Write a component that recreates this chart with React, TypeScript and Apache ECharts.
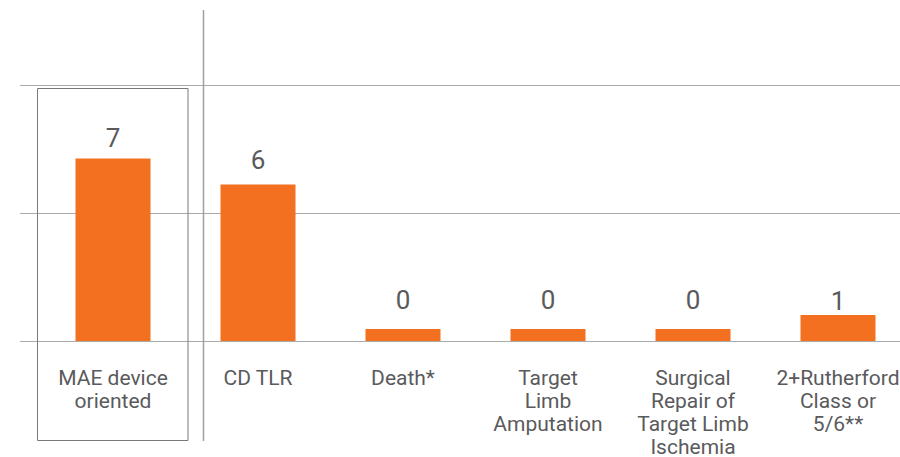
import React, { useEffect, useRef } from "react";
import * as echarts from "echarts";

const categories: string[] = [
  "MAE device\noriented",
  "CD TLR",
  "Death*",
  "Target\nLimb\nAmputation",
  "Surgical\nRepair of\nTarget Limb\nIschemia",
  "2+Rutherford\nClass or\n5/6**",
];
const values: number[] = [7, 6, 0, 0, 0, 1];
const yTicks: number[] = [0, 4.9, 9.8];

const labelGap: number[] = [8, 12, 16, 16, 16, 1];

const FONT = "Roboto, sans-serif";
const TEXT = "#5a5a5c";
const ORANGE = "#F37021";

export default function App() {
  const ref = useRef<HTMLDivElement>(null);
  useEffect(() => {
    if (!ref.current) return;
    const chart = echarts.init(ref.current, undefined, { renderer: "svg" });
    const yMax = yTicks[yTicks.length - 1];
    const yInterval = yTicks[1] - yTicks[0];
    chart.setOption({
      animation: false,
      grid: [
        { left: 40.5, width: 870, top: 85.5, bottom: 116, outerBoundsMode: "none", containLabel: false },
        { left: 20, right: 0, top: 85.5, bottom: 116, outerBoundsMode: "none" },
      ],
      xAxis: [
        {
          type: "category",
          gridIndex: 0,
          data: categories,
          axisLine: { show: false },
          axisTick: { show: false },
          axisLabel: {
            interval: 0,
            margin: 25,
            color: TEXT,
            fontFamily: FONT,
            fontSize: 21,
            lineHeight: 23,
            align: "center",
          },
        },
        {
          type: "value",
          gridIndex: 1,
          show: false,
          min: 0,
          max: 1,
        },
      ],
      yAxis: [
        {
          type: "value",
          gridIndex: 0,
          min: 0,
          max: yMax,
          interval: yInterval,
          show: false,
          splitLine: { show: false },
        },
        {
          type: "value",
          gridIndex: 1,
          min: 0,
          max: yMax,
          interval: yInterval,
          axisLine: { show: false },
          axisTick: { show: false },
          axisLabel: { show: false },
          splitLine: { show: true, lineStyle: { color: "#ababab", width: 1 } },
        },
      ],
      graphic: [
        {
          type: "rect",
          shape: { x: 37.5, y: 88.5, width: 150.5, height: 352 },
          style: { fill: "none", stroke: "#7a7a7a", lineWidth: 1 },
          z: 10,
        },
        {
          type: "line",
          shape: { x1: 203.5, y1: 10, x2: 203.5, y2: 441 },
          style: { stroke: "#a0a0a0", lineWidth: 1.5 },
          z: 10,
        },
      ],
      series: [
        {
          type: "bar",
          xAxisIndex: 0,
          yAxisIndex: 0,
          barWidth: 75,
          barMinHeight: 12,
          itemStyle: { color: ORANGE },
          data: values.map((v, i) => ({
            value: v,
            label: { distance: labelGap[i] },
          })),
          label: {
            show: true,
            position: "top",
            color: TEXT,
            fontFamily: FONT,
            fontSize: 26,
          },
          z: 5,
        },
      ],
    });
    return () => chart.dispose();
  }, []);
  return (
    <div
      ref={ref}
      style={{ position: "fixed", left: 0, top: 0, width: 900, height: 457, background: "#fff" }}
    />
  );
}
